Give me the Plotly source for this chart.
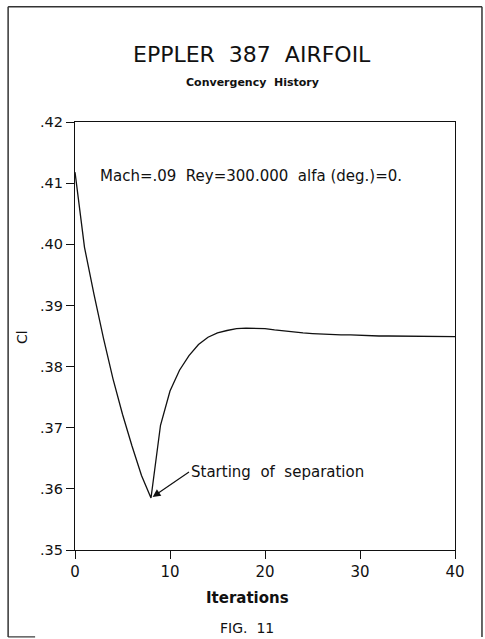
import plotly.graph_objects as go

# Convergence history of the lift coefficient, one value per iteration
iterations = list(range(0, 41))
cl_values = [
    0.4118, 0.3995, 0.3918, 0.3846, 0.3780, 0.3722, 0.3670, 0.3622, 0.3585,
    0.3704, 0.3760, 0.3794, 0.3818, 0.3836, 0.3848, 0.3855, 0.3859, 0.3862,
    0.3863, 0.3863, 0.3862, 0.3860, 0.3858, 0.3857, 0.3855, 0.3854, 0.3853,
    0.3853, 0.3852, 0.3852, 0.3851, 0.3851, 0.3850, 0.3850, 0.3850, 0.3850,
    0.3849, 0.3849, 0.3849, 0.3849, 0.3849,
]

x_ticks = [0, 10, 20, 30, 40]
y_ticks = [0.35, 0.36, 0.37, 0.38, 0.39, 0.40, 0.41, 0.42]
y_tick_text = [".35", ".36", ".37", ".38", ".39", ".40", ".41", ".42"]

separation_iter = 8
separation_cl = cl_values[separation_iter]

FONT = "DejaVu Sans"
INK = "#111111"

fig = go.Figure()
fig.add_trace(go.Scatter(
    x=iterations, y=cl_values, mode="lines",
    line=dict(color=INK, width=1.3), showlegend=False, hoverinfo="skip",
))

axis_common = dict(
    showgrid=False, zeroline=False, showline=True, linecolor=INK, linewidth=1.3,
    mirror=True, ticks="outside", ticklen=8, tickwidth=1.2, tickcolor=INK,
)

fig.update_xaxes(range=[0, 40], tickvals=x_ticks,
                 tickfont=dict(family=FONT, size=15, color=INK), **axis_common)
fig.update_yaxes(range=[0.35, 0.42], tickvals=y_ticks, ticktext=y_tick_text,
                 tickfont=dict(family=FONT, size=14.5, color=INK), **axis_common)


def paper_text(text, x, y, size, **kw):
    kw.setdefault("xanchor", "center")
    return dict(text=text, x=x, y=y, xref="paper", yref="paper",
                yanchor="middle", showarrow=False,
                font=dict(family=FONT, size=size, color=INK), **kw)


annotations = [
    paper_text("EPPLER  387  AIRFOIL", 0.466, 1.157, 22),
    paper_text("<b>Convergency  History</b>", 0.466, 1.093, 11),
    paper_text("Mach=.09  Rey=300.000  alfa (deg.)=0.", 0.06, 0.874, 15, xanchor="left"),
    paper_text("Cl", -0.139, 0.498, 14, textangle=-90),
    paper_text("<b>Iterations</b>", 0.453, -0.112, 15),
    paper_text("FIG.  11", 0.453, -0.182, 14),
    dict(text="Starting  of  separation", x=separation_iter, y=separation_cl,
         xref="x", yref="y", ax=38, ay=-26, xanchor="left", yanchor="middle",
         showarrow=True, arrowhead=2, arrowsize=1.3, arrowwidth=1.2, arrowcolor=INK,
         standoff=2, font=dict(family=FONT, size=15, color=INK)),
]

# Outer page frame (left, top, right edges plus a short bottom stub)
frame_color = "#333333"
shapes = [
    dict(type="line", xref="paper", yref="paper", x0=-0.176, y0=-0.203, x1=-0.176, y1=1.269,
         line=dict(color=frame_color, width=1.5)),
    dict(type="line", xref="paper", yref="paper", x0=-0.176, y0=1.269, x1=1.071, y1=1.269,
         line=dict(color=frame_color, width=1.5)),
    dict(type="line", xref="paper", yref="paper", x0=1.071, y0=1.269, x1=1.071, y1=-0.203,
         line=dict(color=frame_color, width=1.5)),
    dict(type="line", xref="paper", yref="paper", x0=-0.176, y0=-0.203, x1=-0.105, y1=-0.203,
         line=dict(color=frame_color, width=1.2)),
]

fig.update_layout(
    width=485, height=639,
    margin=dict(l=75, r=30, t=122, b=89),
    paper_bgcolor="white", plot_bgcolor="white",
    annotations=annotations, shapes=shapes,
    font=dict(family=FONT, color=INK),
)

fig.write_html("out.html")
